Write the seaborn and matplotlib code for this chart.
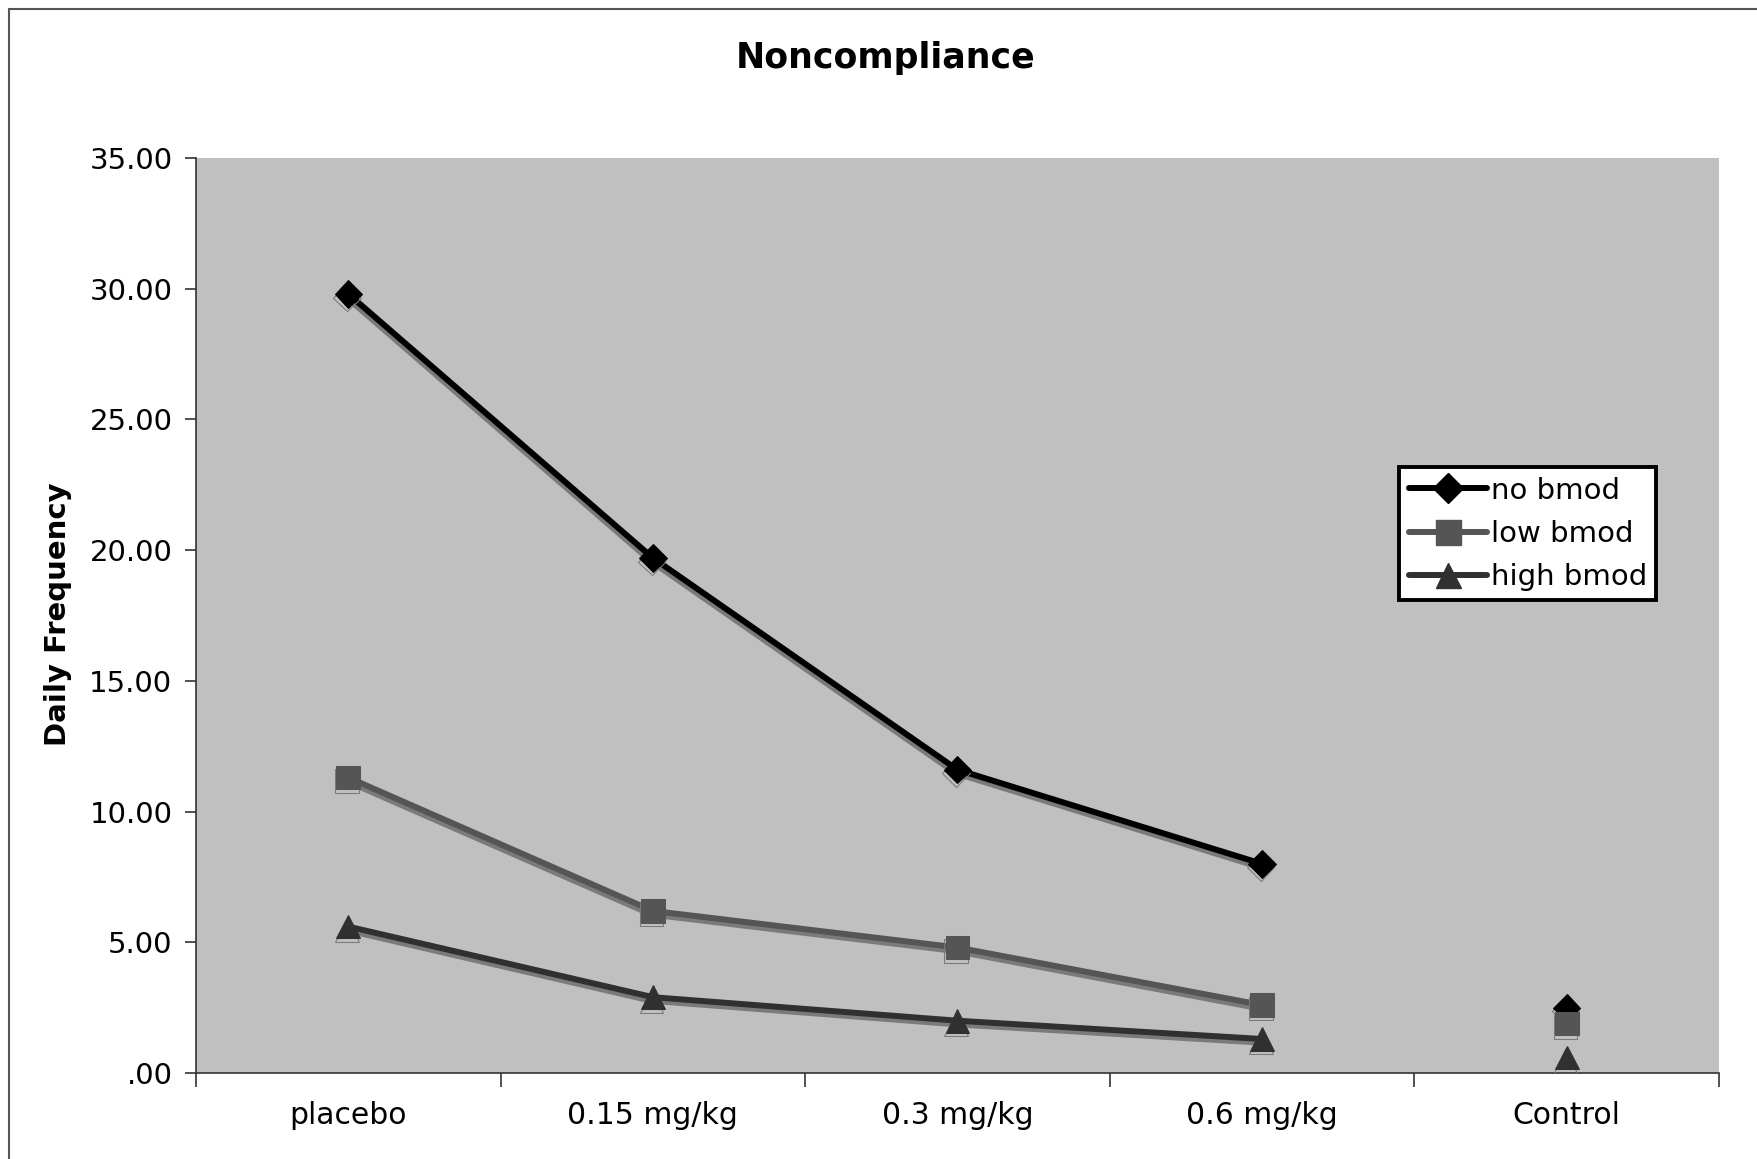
import matplotlib
matplotlib.use("Agg")
import matplotlib.pyplot as plt
import matplotlib.patheffects as pe
from matplotlib.lines import Line2D
import seaborn as sns
import pandas as pd
import numpy as np

# ---- data ----
categories = ["placebo", "0.15 mg/kg", "0.3 mg/kg", "0.6 mg/kg", "Control"]
no_bmod = [29.8, 19.7, 11.6, 8.0, 2.5]
low_bmod = [11.3, 6.2, 4.8, 2.6, 1.9]
high_bmod = [5.6, 2.9, 2.0, 1.3, 0.6]
series_names = ["no bmod", "low bmod", "high bmod"]
y_ticks = [0, 5, 10, 15, 20, 25, 30, 35]

sns.set_theme(style="white")
plt.rcParams["font.family"] = ["DejaVu Sans"]
plt.rcParams["text.color"] = "black"

fig = plt.figure(figsize=(17.58, 11.59), dpi=100)
ax = fig.add_axes([196 / 1758, 1 - 1073 / 1159, (1719 - 196) / 1758, (1073 - 158) / 1159])
ax.set_facecolor("#c0c0c0")

styles = {
    "no bmod": dict(color="#000000", marker="D", ms=14),
    "low bmod": dict(color="#555555", marker="s", ms=17),
    "high bmod": dict(color="#303030", marker="^", ms=17),
}
shadow = [pe.SimpleLineShadow(offset=(-1.0, -2.6), shadow_color="#7a7a7a", alpha=1.0), pe.Normal()]

pos = list(range(len(categories)))
handles = []
for name, vals in zip(series_names, [no_bmod, low_bmod, high_bmod]):
    st = styles[name]
    df = pd.DataFrame({"x": pos[:4], "y": vals[:4]})
    sns.lineplot(data=df, x="x", y="y", ax=ax, color=st["color"], lw=4.3,
                 marker=st["marker"], markersize=st["ms"], markeredgecolor=st["color"],
                 markerfacecolor=st["color"], path_effects=shadow, zorder=3)
    dfc = pd.DataFrame({"x": pos[4:], "y": vals[4:]})
    sns.lineplot(data=dfc, x="x", y="y", ax=ax, color=st["color"], lw=0,
                 marker=st["marker"], markersize=st["ms"], markeredgecolor=st["color"],
                 markerfacecolor=st["color"], path_effects=shadow, zorder=3)
    handles.append(Line2D([], [], color=st["color"], lw=4.3, marker=st["marker"],
                          markersize=st["ms"] + 1, markerfacecolor=st["color"],
                          markeredgecolor=st["color"], label=name))

ax.set_xlim(-0.5, len(categories) - 0.5)
ax.set_ylim(0, 35)
ax.set_yticks(y_ticks)
ax.set_yticklabels([".00" if v == 0 else f"{v:.2f}" for v in y_ticks])
ax.set_xticks(pos)
ax.set_xticklabels(categories)
ax.set_xticks(np.arange(-0.5, len(categories), 1.0), minor=True)
ax.tick_params(axis="x", which="major", length=0, pad=20, labelsize=21.5, labelcolor="black")
ax.tick_params(axis="x", which="minor", length=10, width=1.2, color="#333333", bottom=True)
ax.tick_params(axis="y", which="major", length=8, width=1.2, color="#333333", left=True,
               labelsize=21, pad=9, labelcolor="black")
ax.set_xlabel("")
ax.set_ylabel("")
fig.text(58 / 1758, 1 - 614 / 1159, "Daily Frequency", rotation=90, ha="center", va="center",
         fontsize=21, fontweight="bold", color="black")

for side in ["top", "right"]:
    ax.spines[side].set_visible(False)
for side in ["left", "bottom"]:
    ax.spines[side].set_color("#333333")
    ax.spines[side].set_linewidth(1.2)

leg = ax.legend(handles=handles, loc="upper left", bbox_to_anchor=(0.79, 0.662),
                fontsize=21, frameon=True, fancybox=False, framealpha=1, handlelength=2.7,
                handletextpad=0.12, borderpad=0.32, labelspacing=0.52, borderaxespad=0)
leg.get_frame().set_edgecolor("black")
leg.get_frame().set_linewidth(2.8)
leg.get_frame().set_facecolor("white")
for t in leg.get_texts():
    t.set_color("black")

fig.text(886 / 1758, 1 - 58 / 1159, "Noncompliance", ha="center", va="center",
         fontsize=25, fontweight="bold", color="black")

# outer chart border (top and left visible)
fig.add_artist(Line2D([9 / 1758, 9 / 1758], [0, 1 - 9 / 1159], transform=fig.transFigure,
                      color="#555555", lw=1.5))
fig.add_artist(Line2D([9 / 1758, 1], [1 - 9 / 1159, 1 - 9 / 1159], transform=fig.transFigure,
                      color="#555555", lw=1.5))

fig.savefig("out.png", dpi=100, facecolor="white")
